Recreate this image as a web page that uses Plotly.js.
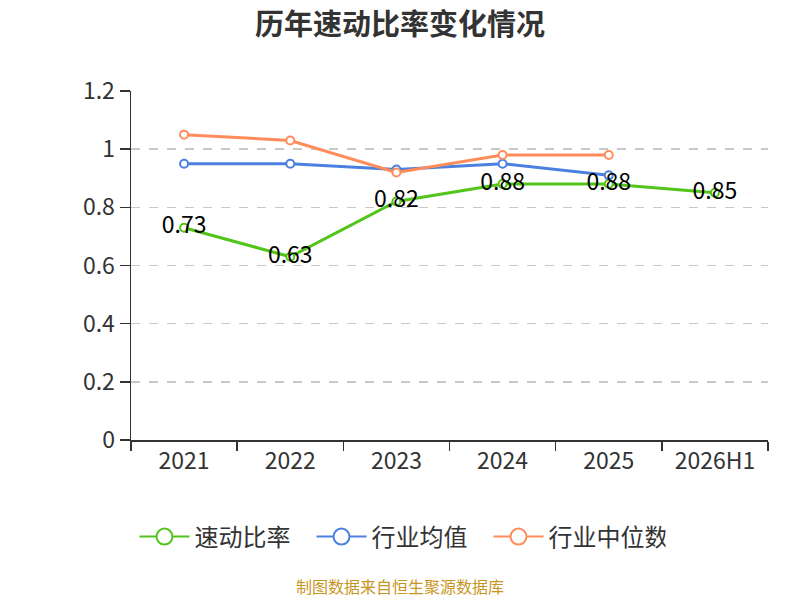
<!DOCTYPE html>
<html>
<head>
<meta charset="utf-8">
<script src="https://cdn.plot.ly/plotly-3.0.1.min.js"></script>
<style>
  html, body { margin: 0; padding: 0; background: #fff; }
  #chart { width: 800px; height: 600px; }
</style>
</head>
<body>
<div id="chart"></div>
<script>
const years = ['2021', '2022', '2023', '2024', '2025', '2026H1'];
const quickRatio = [0.73, 0.63, 0.82, 0.88, 0.88, 0.85];
const industryMean = [0.95, 0.95, 0.93, 0.95, 0.91];
const industryMedian = [1.05, 1.03, 0.92, 0.98, 0.98];

const seriesNames = ['速动比率', '行业均值', '行业中位数'];
const seriesColors = ['#52c41a', '#4b80e0', '#ff8c5a'];

const cjk = '"Noto Sans CJK SC", "Noto Sans", sans-serif';

function lineTrace(name, y, color) {
    return {
        type: 'scatter',
        mode: 'lines+markers',
        name: name,
        x: years.slice(0, y.length),
        y: y,
        line: { color: color, width: 3 },
        marker: { symbol: 'circle', size: 8, color: '#fff', line: { color: color, width: 2 } },
        showlegend: false,
        cliponaxis: false
    };
}

// legend entries: thin line with a big open circle
function legendTrace(name, color) {
    return {
        type: 'scatter',
        mode: 'lines+markers',
        name: name,
        x: [null],
        y: [null],
        line: { color: color, width: 2 },
        marker: { symbol: 'circle', size: 16, color: '#fff', line: { color: color, width: 2 } }
    };
}

let traceData = [
    lineTrace(seriesNames[0], quickRatio, seriesColors[0]),
    lineTrace(seriesNames[1], industryMean, seriesColors[1]),
    lineTrace(seriesNames[2], industryMedian, seriesColors[2])
];
// value labels drawn above all lines
traceData.push({
    type: 'scatter',
    mode: 'text',
    x: years,
    y: quickRatio,
    text: quickRatio.map(v => v.toFixed(2)),
    textposition: 'middle center',
    textfont: { family: cjk, size: 23, color: '#000' },
    showlegend: false,
    hoverinfo: 'skip',
    cliponaxis: false
});
for (let i = 0; i < seriesNames.length; i++) {
    traceData.push(legendTrace(seriesNames[i], seriesColors[i]));
}

// paper x of the page centre (plot area runs 131..768)
const pageCentre = (400 - 131) / 637;

let layout = {
    width: 800,
    height: 600,
    paper_bgcolor: '#fff',
    plot_bgcolor: '#fff',
    font: { family: cjk, color: '#333' },
    title: {
        text: '<b>历年速动比率变化情况</b>',
        font: { family: cjk, size: 29, color: '#333' },
        x: 0.5, xanchor: 'center',
        y: 0.958, yanchor: 'middle'
    },
    margin: { t: 91, r: 32, b: 160, l: 131 },
    xaxis: {
        type: 'category',
        categoryorder: 'array',
        categoryarray: years,
        tickson: 'boundaries',
        ticks: 'outside',
        ticklen: 9,
        tickcolor: '#333',
        tickwidth: 1.5,
        showline: true,
        linecolor: '#333',
        linewidth: 1.5,
        showgrid: false,
        tickfont: { family: cjk, size: 23, color: '#333' },
        range: [-0.5, 5.5]
    },
    yaxis: {
        range: [0, 1.2],
        dtick: 0.2,
        ticks: 'outside',
        ticklen: 10,
        tickcolor: '#333',
        tickwidth: 1.5,
        showline: true,
        linecolor: '#333',
        linewidth: 1.5,
        showgrid: true,
        gridcolor: '#c8c8c8',
        griddash: 'dash',
        gridwidth: 1.5,
        zeroline: false,
        tickfont: { family: cjk, size: 23, color: '#333' },
        tickformat: '~g'
    },
    legend: {
        orientation: 'h',
        x: pageCentre, xanchor: 'center',
        y: -0.278, yanchor: 'middle',
        font: { family: cjk, size: 24, color: '#333' },
        itemwidth: 50,
        entrywidth: 112,
        traceorder: 'normal'
    },
    annotations: [{
        text: '制图数据来自恒生聚源数据库',
        xref: 'paper', yref: 'paper',
        x: pageCentre, xanchor: 'center',
        y: -0.418, yanchor: 'middle',
        showarrow: false,
        font: { family: cjk, size: 16, color: '#c8961e' }
    }],
    showlegend: true
};

Plotly.newPlot('chart', traceData, layout, { staticPlot: true });
</script>
</body>
</html>
